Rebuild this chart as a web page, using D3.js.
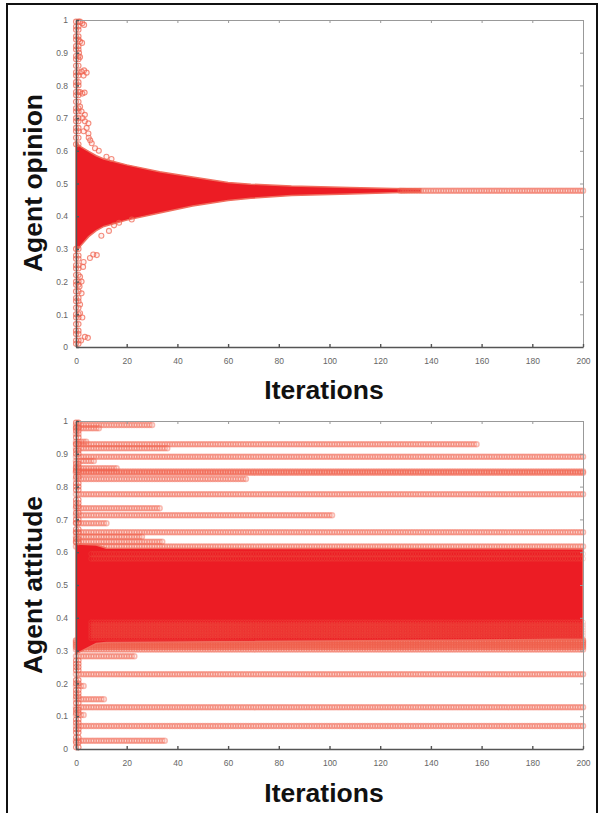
<!DOCTYPE html>
<html>
  <head>
    <title>Agent opinion / attitude</title>
    <script src="https://cdn.jsdelivr.net/npm/d3@7"></script>
    <style>
      body { margin: 0; background: #fff; }
      .tick text { font-family: "Liberation Sans", Arial, sans-serif; fill: #666; }
      .title { font-family: "Liberation Sans", Arial, sans-serif; font-weight: bold; fill: #111; }
    </style>
  </head>
  <body>
    <svg id="svg" width="599" height="813"></svg>
    <script>
      // ---- data ----
      const xTicks = [0, 20, 40, 60, 80, 100, 120, 140, 160, 180, 200];
      const yTicks = [0, 0.1, 0.2, 0.3, 0.4, 0.5, 0.6, 0.7, 0.8, 0.9, 1];

      // top panel: edges of the dense opinion cloud [iteration, opinion]
      const opinionUpper = [[0, 0.625], [2, 0.612], [5, 0.598], [8, 0.585], [11, 0.575], [20, 0.557], [33, 0.536],
        [46, 0.52], [60, 0.503], [69, 0.498], [85, 0.492], [108, 0.488], [125, 0.485], [136, 0.483]];
      const opinionLower = [[0, 0.29], [1.6, 0.307], [4, 0.33], [6.7, 0.35], [10.7, 0.368], [20, 0.388], [33, 0.41],
        [46, 0.431], [60, 0.448], [69, 0.455], [85, 0.463], [108, 0.468], [125, 0.472], [136, 0.474]];
      // the converged opinion after the cloud closes
      const consensusValue = 0.478;
      const consensusFrom = 128;
      const consensusTo = 200;
      // initial opinions (iteration 0)
      const opinionStart = [0.01, 0.02, 0.04, 0.05, 0.07, 0.09, 0.1, 0.12, 0.14, 0.15, 0.17, 0.19, 0.2, 0.22, 0.24,
        0.25, 0.27, 0.28, 0.3, 0.62, 0.64, 0.66, 0.67, 0.69, 0.7, 0.72, 0.73, 0.75, 0.77, 0.78, 0.8, 0.81, 0.83,
        0.84, 0.86, 0.88, 0.89, 0.91, 0.92, 0.94, 0.95, 0.97, 0.98, 0.995];
      // stray opinions in the first iterations [iteration, opinion]
      const opinionOutliers = [[1.6, 0.995], [2.5, 0.99], [3.2, 0.985], [1.6, 0.934], [2.4, 0.93], [1.2, 0.9],
        [1.6, 0.887], [2.2, 0.842], [3.2, 0.846], [4.2, 0.839], [3, 0.83], [1.6, 0.78], [2.5, 0.775], [3.4, 0.778],
        [1.6, 0.735], [2.2, 0.72], [3.5, 0.71], [2.6, 0.7], [4.9, 0.684], [3.5, 0.69], [4.2, 0.67], [4.9, 0.653],
        [3, 0.66], [5.6, 0.632], [6.2, 0.623], [7.5, 0.608], [5, 0.64], [9, 0.6], [12, 0.582], [14, 0.575],
        [8.2, 0.281], [6.8, 0.283], [5.5, 0.272], [3, 0.26], [2.8, 0.245], [1.6, 0.215], [2.2, 0.2], [1.4, 0.185],
        [2.2, 0.164], [1.6, 0.13], [1.6, 0.103], [2.5, 0.09], [3.5, 0.031], [4.7, 0.028], [2, 0.02],
        [10, 0.34], [13, 0.355], [15, 0.372], [17, 0.38], [22, 0.39]];

      // bottom panel: agents that keep an attitude [attitude, last iteration]
      const attitudeBands = [[0.988, 30], [0.978, 9], [0.96, 1], [0.937, 4], [0.929, 158], [0.917, 36], [0.891, 200],
        [0.878, 7], [0.856, 16], [0.846, 200], [0.842, 200], [0.823, 67], [0.777, 200], [0.734, 33], [0.713, 101],
        [0.688, 12], [0.661, 200], [0.647, 26], [0.632, 34], [0.617, 200], [0.303, 200], [0.283, 23], [0.228, 200],
        [0.192, 3.5], [0.152, 11], [0.127, 200], [0.104, 3], [0.07, 200], [0.025, 35]];
      // rows under the dense block, and rows seen through its lower part
      const attitudeLowRows = [0.311, 0.318, 0.325, 0.331];
      const attitudeInnerRows = [0.338, 0.346, 0.354, 0.362, 0.37, 0.378, 0.386, 0.58, 0.595];
      // edges of the dense attitude block [iteration, attitude]
      const attitudeUpper = [[0, 0.625], [8, 0.622], [12, 0.612], [200, 0.61]];
      const attitudeLower = [[0, 0.29], [2, 0.293], [4, 0.31], [8, 0.322], [20, 0.33], [200, 0.335]];
      // initial attitudes (iteration 0)
      const attitudeStart = [0.005, 0.02, 0.035, 0.05, 0.06, 0.08, 0.09, 0.11, 0.12, 0.14, 0.16, 0.17, 0.18, 0.2,
        0.21, 0.24, 0.25, 0.26, 0.27, 0.63, 0.64, 0.66, 0.67, 0.69, 0.7, 0.72, 0.74, 0.75, 0.76, 0.79, 0.8, 0.81,
        0.83, 0.85, 0.86, 0.87, 0.9, 0.91, 0.93, 0.95, 0.97, 0.98, 0.995];

      // ---- drawing ----
      const svg = d3.select('#svg');
      const left = 76, right = 583;
      const red = '#ec1c24';
      const ring = 'rgb(240,95,75)';

      svg.append('rect')
        .attr('x', 7).attr('y', 4).attr('width', 590).attr('height', 830)
        .attr('fill', 'none').attr('stroke', '#111').attr('stroke-width', 2);

      function panel(top, bottom, yTitle, titleY, xTitleY) {
        const x = d3.scaleLinear().domain([0, 200]).range([left, right]);
        const y = d3.scaleLinear().domain([0, 1]).range([bottom, top]);
        const g = svg.append('g');
        const marks = g.append('g');
        const axes = g.append('g');

        axes.append('g')
          .attr('transform', `translate(0,${top})`)
          .call(d3.axisTop(x).tickValues(xTicks).tickSize(-3).tickSizeOuter(0).tickFormat(''))
          .call(a => a.selectAll('line,path').attr('stroke', '#999'));
        axes.append('g')
          .attr('transform', `translate(${right},0)`)
          .call(d3.axisRight(y).tickValues(yTicks).tickSize(-3).tickSizeOuter(0).tickFormat(''))
          .call(a => a.selectAll('line,path').attr('stroke', '#999'));
        axes.append('g')
          .attr('transform', `translate(0,${bottom})`)
          .call(d3.axisBottom(x).tickValues(xTicks).tickSize(-3).tickSizeOuter(0).tickPadding(11))
          .call(a => a.selectAll('line,path').attr('stroke', '#555').attr('stroke-width', 1.4))
          .call(a => a.selectAll('text').attr('font-size', 8.5));
        axes.append('g')
          .attr('transform', `translate(${left},0)`)
          .call(d3.axisLeft(y).tickValues(yTicks).tickSize(-3).tickSizeOuter(0).tickPadding(8).tickFormat(d3.format('')))
          .call(a => a.selectAll('line,path').attr('stroke', '#555').attr('stroke-width', 1.4))
          .call(a => a.selectAll('text').attr('font-size', 8.5));

        svg.append('text').attr('class', 'title')
          .attr('transform', `translate(42,${titleY}) rotate(-90)`)
          .attr('text-anchor', 'middle').attr('font-size', 26.5).text(yTitle);
        svg.append('text').attr('class', 'title')
          .attr('x', 324).attr('y', xTitleY)
          .attr('text-anchor', 'middle').attr('font-size', 26.5).text('Iterations');

        return { x, y, marks };
      }

      function rings(sel, pts, x, y, opacity, width, fillOpacity) {
        sel.append('g').selectAll('circle').data(pts).join('circle')
          .attr('cx', d => x(d[0])).attr('cy', d => y(d[1])).attr('r', 2.5)
          .attr('fill', 'rgb(245,150,130)').attr('fill-opacity', fillOpacity === undefined ? 0.12 : fillOpacity)
          .attr('stroke', ring)
          .attr('stroke-opacity', opacity).attr('stroke-width', width || 1.1);
      }

      function row(value, last) {
        return d3.range(0, last + 0.01, 1).map(i => [i, value]);
      }

      function cloud(sel, upper, lower, x, y) {
        const lo = d3.scaleLinear().domain(lower.map(d => d[0])).range(lower.map(d => d[1]));
        const pts = upper.map(d => ({ i: d[0], hi: d[1], lo: lo(d[0]) }));
        sel.append('path')
          .attr('d', d3.area().x(d => x(d.i)).y0(d => y(d.lo)).y1(d => y(d.hi))(pts))
          .attr('fill', red).attr('stroke', 'rgb(240,110,95)').attr('stroke-width', 1.5);
      }

      // top panel: opinion
      const p1 = panel(20, 347, 'Agent opinion', 183, 399);
      cloud(p1.marks, opinionUpper, opinionLower, p1.x, p1.y);
      rings(p1.marks, row(consensusValue, consensusTo).filter(d => d[0] >= consensusFrom), p1.x, p1.y, 0.45, 1.5);
      rings(p1.marks, opinionStart.map(v => [0, v]).concat(opinionStart.map(v => [1, v])), p1.x, p1.y, 0.7);
      rings(p1.marks, opinionOutliers, p1.x, p1.y, 0.7);

      // bottom panel: attitude
      const p2 = panel(421, 749, 'Agent attitude', 585, 802);
      attitudeBands.forEach(b => rings(p2.marks, row(b[0], b[1]), p2.x, p2.y, 0.42, 1.5));
      attitudeLowRows.forEach(v => rings(p2.marks, row(v, 200), p2.x, p2.y, 0.6, 1.5));
      cloud(p2.marks, attitudeUpper, attitudeLower, p2.x, p2.y);
      attitudeInnerRows.forEach(v => rings(p2.marks, row(v, 200).filter(d => d[0] >= 6), p2.x, p2.y, 0.3, 0.8, 0));
      rings(p2.marks, attitudeStart.map(v => [0, v]).concat(attitudeStart.map(v => [1, v])), p2.x, p2.y, 0.7);
    </script>
  </body>
</html>
